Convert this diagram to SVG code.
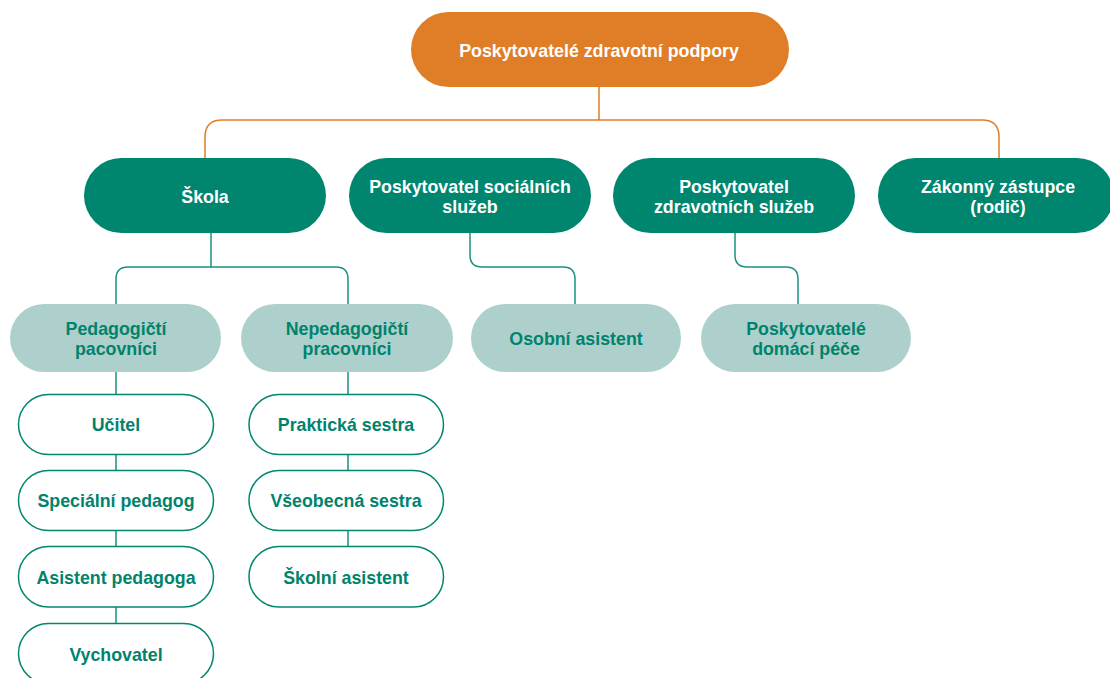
<svg xmlns="http://www.w3.org/2000/svg" width="1110" height="678" viewBox="0 0 1110 678">
<style>
text{font-family:"Liberation Sans",Arial,sans-serif;font-weight:700;font-size:17.8px;text-anchor:middle}
.root{fill:#E07E27}
.l1{fill:#00866F}
.l2{fill:#AED0CC}
.l3{fill:#FFFFFF;stroke:#00866F;stroke-width:1.5}
.tw{fill:#FFFFFF}
.tt{fill:#00836D}
.co{fill:none;stroke:#E07E27;stroke-width:1.5}
.ct{fill:none;stroke:#1A9282;stroke-width:1.5}
</style>
<rect width="1110" height="678" fill="#FFFFFF"/>
<g id="connectors">
<path class="co" d="M599,87 V120 M205,158 V137 Q205,120 222,120 H982 Q999,120 999,137 V158"/>
<path class="ct" d="M211,233 V267 M116,304 V279 Q116,267 128,267 H336 Q348,267 348,279 V304"/>
<path class="ct" d="M470,233 V255 Q470,267 482,267 H563 Q575,267 575,279 V304"/>
<path class="ct" d="M735,233 V255 Q735,267 747,267 H786 Q798,267 798,279 V304"/>
<path class="ct" d="M116,372 V394 M116,455 V470 M116,531 V547 M116,607 V623"/>
<path class="ct" d="M348,372 V394 M348,455 V470 M348,531 V547"/>
</g>
<g id="n-root"><rect class="root" x="411" y="12" width="378" height="75" rx="37.5"/><text class="tw" x="599" y="57">Poskytovatelé zdravotní podpory</text></g>
<g id="n-skola"><rect class="l1" x="84" y="158" width="242" height="75" rx="37.5"/><text class="tw" x="205" y="203">Škola</text></g>
<g id="n-soc"><rect class="l1" x="349" y="158" width="242" height="75" rx="37.5"/><text class="tw" x="470" y="193">Poskytovatel sociálních</text><text class="tw" x="470" y="213.2">služeb</text></g>
<g id="n-zdrav"><rect class="l1" x="613" y="158" width="242" height="75" rx="37.5"/><text class="tw" x="734" y="193">Poskytovatel</text><text class="tw" x="734" y="213.2">zdravotních služeb</text></g>
<g id="n-zak"><rect class="l1" x="878" y="158" width="236" height="75" rx="37.5"/><text class="tw" x="998" y="193">Zákonný zástupce</text><text class="tw" x="998" y="213.2">(rodič)</text></g>
<g id="n-ped"><rect class="l2" x="10" y="304" width="211" height="68" rx="34"/><text class="tt" x="116" y="335">Pedagogičtí</text><text class="tt" x="116" y="355.2">pacovníci</text></g>
<g id="n-neped"><rect class="l2" x="241" y="304" width="212" height="68" rx="34"/><text class="tt" x="347" y="335">Nepedagogičtí</text><text class="tt" x="347" y="355.2">pracovníci</text></g>
<g id="n-osob"><rect class="l2" x="471" y="304" width="210" height="68" rx="34"/><text class="tt" x="576" y="345">Osobní asistent</text></g>
<g id="n-domac"><rect class="l2" x="701" y="304" width="210" height="68" rx="34"/><text class="tt" x="806" y="335">Poskytovatelé</text><text class="tt" x="806" y="355.2">domácí péče</text></g>
<g id="n-ucitel"><rect class="l3" x="18.5" y="394.5" width="195" height="60" rx="30"/><text class="tt" x="116" y="431">Učitel</text></g>
<g id="n-spec"><rect class="l3" x="18.5" y="470.5" width="195" height="60" rx="30"/><text class="tt" x="116" y="507">Speciální pedagog</text></g>
<g id="n-asist"><rect class="l3" x="18.5" y="546.5" width="195" height="60.5" rx="30"/><text class="tt" x="116" y="584">Asistent pedagoga</text></g>
<g id="n-vych"><rect class="l3" x="18.5" y="623.5" width="195" height="60" rx="30"/><text class="tt" x="116" y="661">Vychovatel</text></g>
<g id="n-prakt"><rect class="l3" x="249" y="394.5" width="194.5" height="60" rx="30"/><text class="tt" x="346" y="431">Praktická sestra</text></g>
<g id="n-vseob"><rect class="l3" x="249" y="470.5" width="194.5" height="60" rx="30"/><text class="tt" x="346" y="507">Všeobecná sestra</text></g>
<g id="n-skolni"><rect class="l3" x="249" y="546.5" width="194.5" height="60.5" rx="30"/><text class="tt" x="346" y="584">Školní asistent</text></g>
</svg>
